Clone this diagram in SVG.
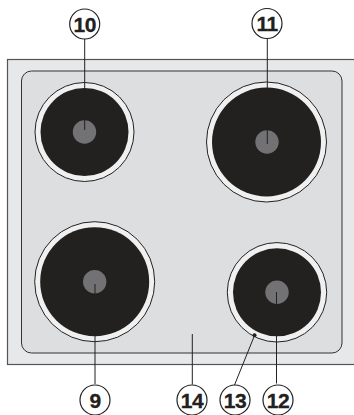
<svg xmlns="http://www.w3.org/2000/svg" width="354" height="415" viewBox="0 0 354 415">
<style>
.ln{fill:none;stroke:#222120;stroke-width:1}
.ring{fill:#f0f0f0;stroke:#222120;stroke-width:1}
.plate{fill:#222120}
.hub{fill:#727274}
.tag{fill:#fff;stroke:#222120;stroke-width:1.200}
.num{font-family:"Liberation Sans",Arial,sans-serif;font-weight:700;font-size:21px;letter-spacing:-.5px;fill:#222120;stroke:#222120;stroke-width:.3;text-anchor:middle}
</style>
<rect width="354" height="415" fill="#fff"/>
<g id="hob">
<rect x="7.500" y="59.500" width="360" height="305" fill="#e7e8e9" stroke="#555" stroke-width="1.200"/>
<rect x="21.500" y="71" width="320.500" height="282" rx="10" fill="#dddee0" stroke="#333" stroke-width="1"/>
</g>
<g id="burner-10">
<circle class="ring" cx="84.500" cy="132" r="49.500"/>
<circle class="plate" cx="84.500" cy="132" r="44"/>
<circle class="hub" cx="84.500" cy="132" r="11.700"/>
</g>
<g id="burner-11">
<circle class="ring" cx="266.500" cy="142" r="60"/>
<circle class="plate" cx="266.500" cy="142" r="54.500"/>
<circle class="hub" cx="267" cy="142" r="11.700"/>
</g>
<g id="burner-9">
<circle class="ring" cx="94.700" cy="281.700" r="60"/>
<circle class="plate" cx="94.700" cy="281.700" r="54.500"/>
<circle class="hub" cx="94.700" cy="281.700" r="11.700"/>
</g>
<g id="burner-12">
<circle class="ring" cx="277" cy="292.300" r="49.700"/>
<circle class="plate" cx="277" cy="292.300" r="44"/>
<circle class="hub" cx="277" cy="292.300" r="11.700"/>
</g>
<g id="connectors">
<path class="ln" d="M84.700 39V130"/>
<path class="ln" d="M267.300 38.500V144"/>
<path class="ln" d="M95 284V384"/>
<path class="ln" d="M276.500 292V383.500"/>
<path class="ln" d="M234.500 385L254.500 335.500"/>
<path class="ln" d="M192.300 384.500V334"/>
<circle cx="254.500" cy="335.300" r="2" fill="#222120"/>
</g>
<g id="label-10"><circle class="tag" cx="84.700" cy="24" r="15"/><text class="num" x="84.700" y="31.500">10</text></g>
<g id="label-11"><circle class="tag" cx="267" cy="23.500" r="15"/><text class="num" x="267" y="31">11</text></g>
<g id="label-9"><circle class="tag" cx="95" cy="400" r="15"/><text class="num" x="95" y="407.500">9</text></g>
<g id="label-14"><circle class="tag" cx="192" cy="400" r="15"/><text class="num" x="192" y="407.500">14</text></g>
<g id="label-13"><circle class="tag" cx="235" cy="400" r="15"/><text class="num" x="235" y="407.500">13</text></g>
<g id="label-12"><circle class="tag" cx="278" cy="400" r="15"/><text class="num" x="278" y="407.500">12</text></g>
</svg>
